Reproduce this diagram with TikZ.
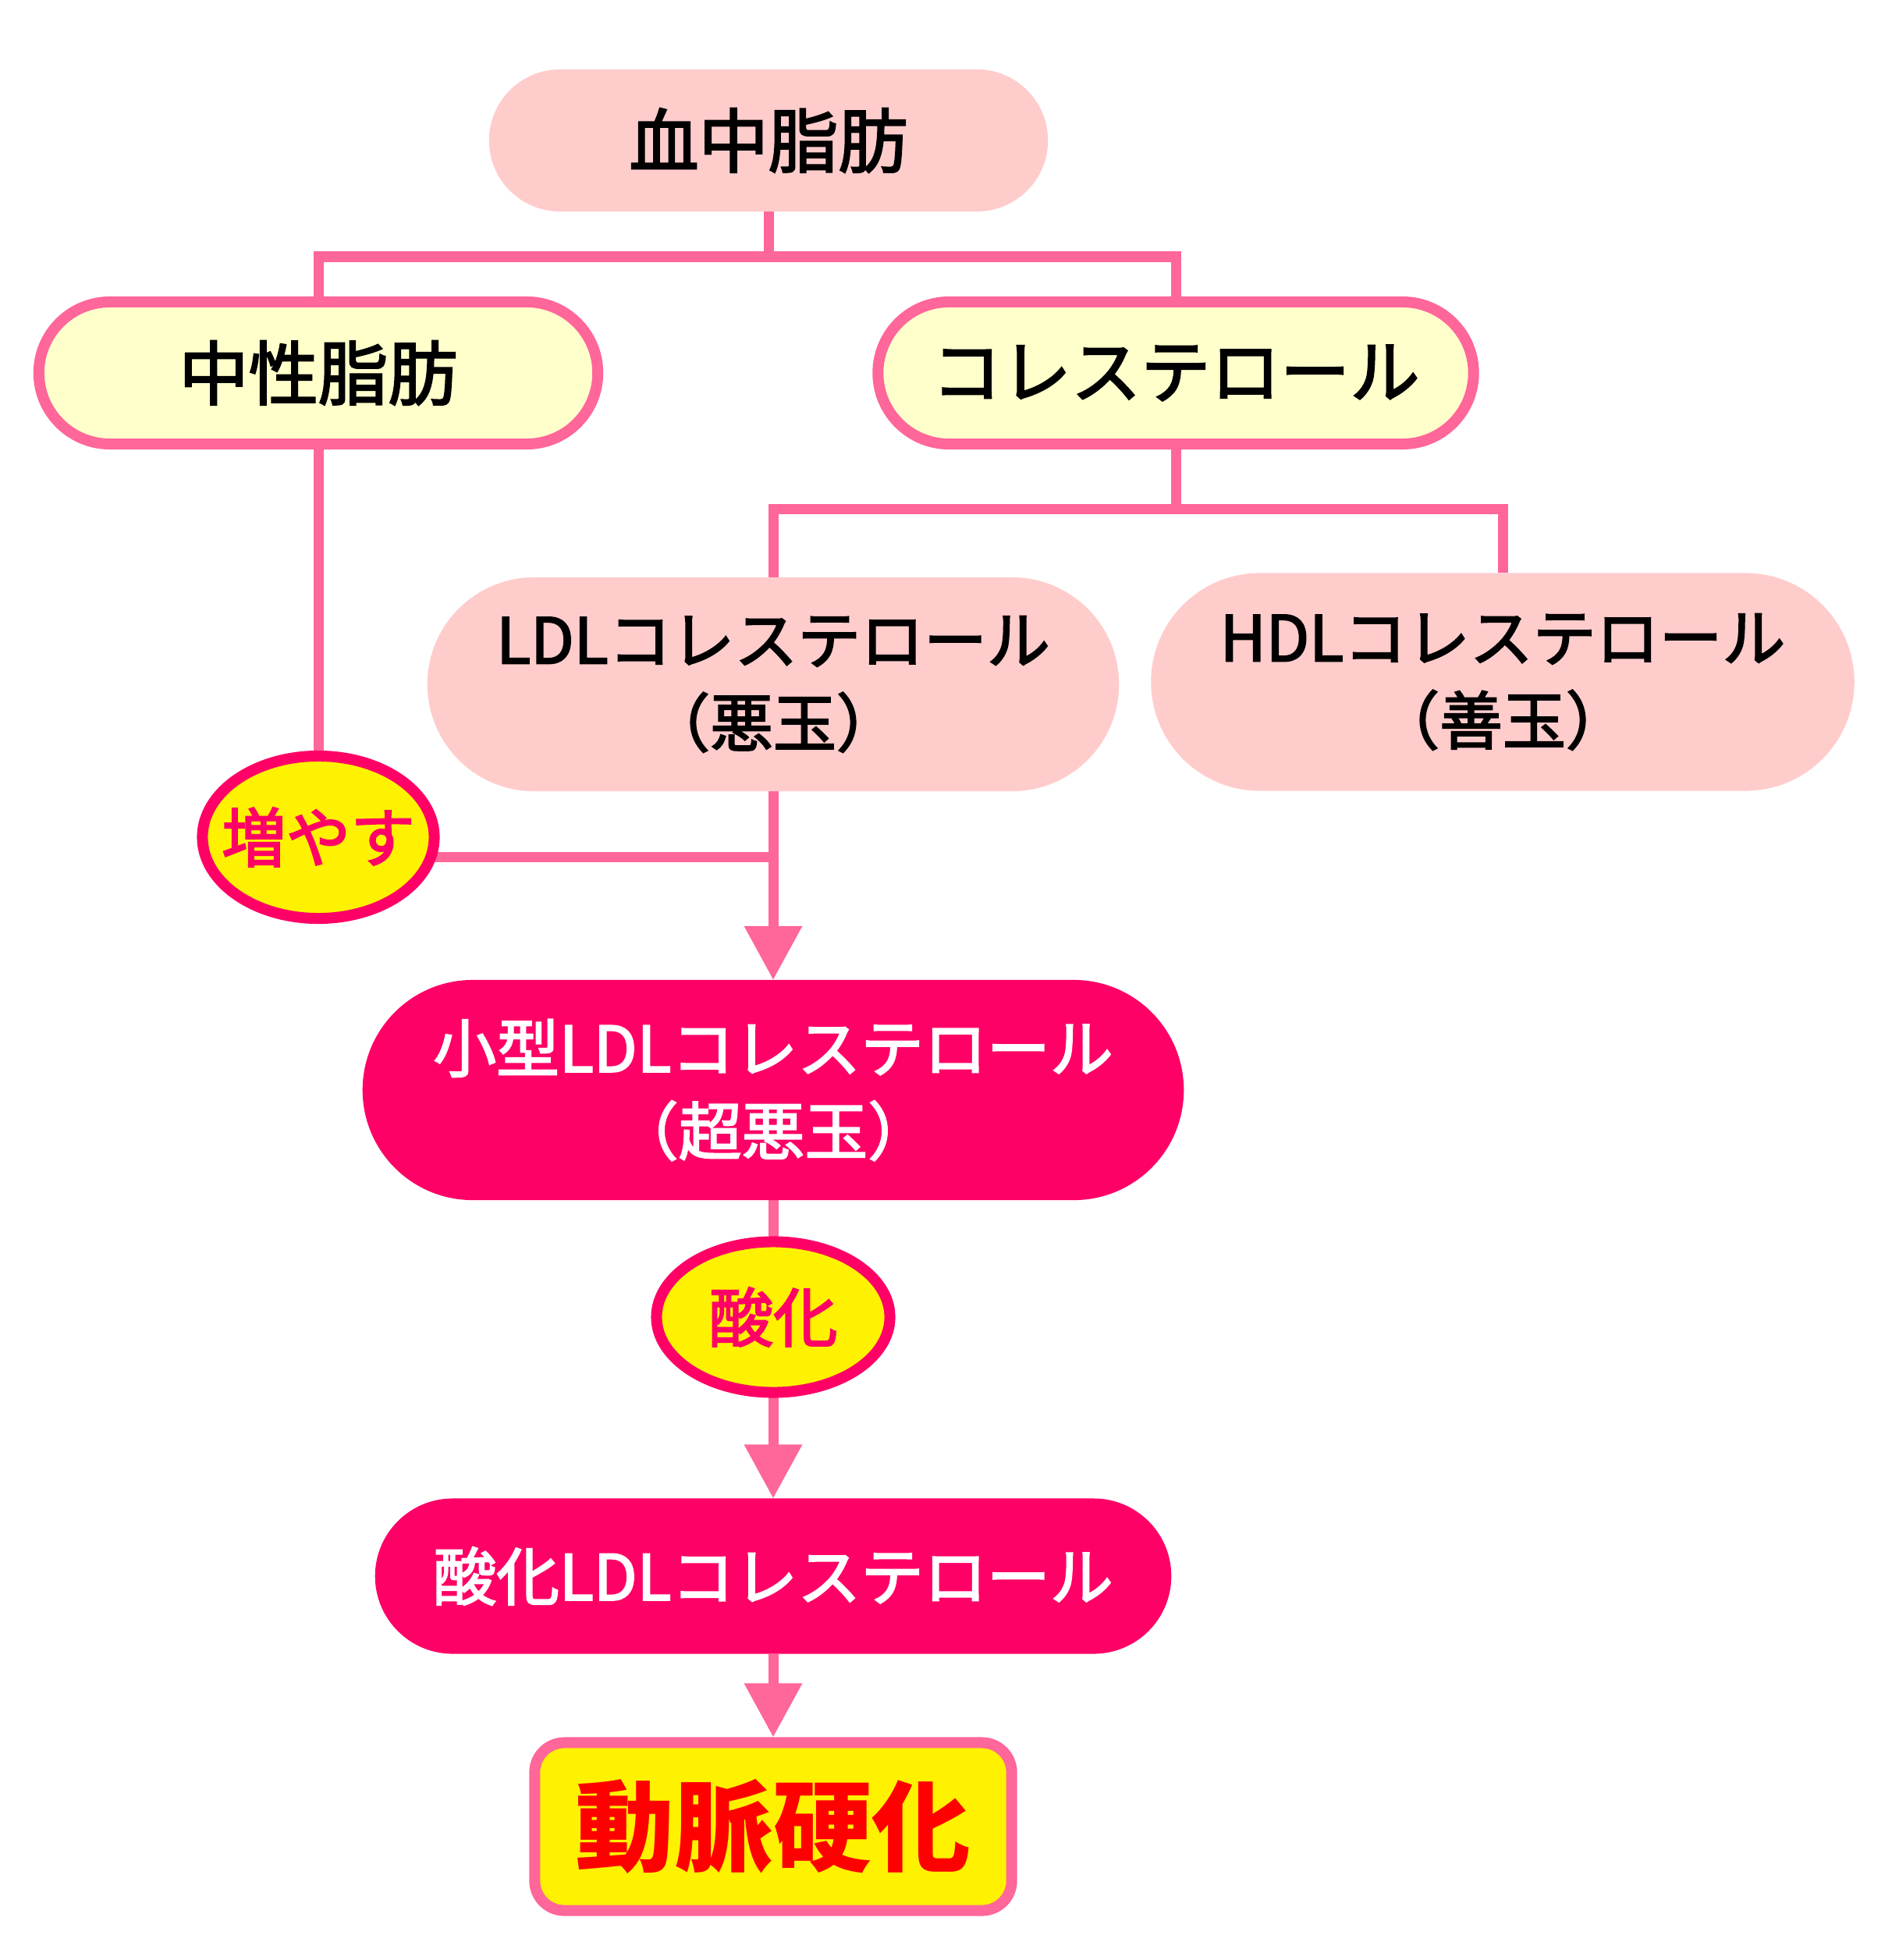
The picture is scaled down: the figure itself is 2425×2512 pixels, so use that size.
\documentclass[tikz,border=0pt]{standalone}
\usepackage{fontspec}
\newfontfamily\jpfont{Noto Sans CJK JP}
\newfontfamily\jpmid{Noto Sans CJK JP}[FakeBold=2.5]
\usetikzlibrary{arrows.meta,backgrounds,shapes.geometric}
\definecolor{linePink}{HTML}{FF6699}
\definecolor{boxPink}{HTML}{FFCCCC}
\definecolor{boxCream}{HTML}{FFFFCC}
\definecolor{deepPink}{HTML}{FF0066}
\begin{document}
\begin{tikzpicture}[x=0.01cm, y=-0.01cm,
        every node/.style={inner sep=0pt, outer sep=0pt, align=center},
        pill/.style={rounded corners=#1, minimum height=2*#1},
        bigText/.style={font=\jpmid\fontsize{25.4}{31}\selectfont},
        midText/.style={font=\jpmid\fontsize{23}{30.2}\selectfont},
        link/.style={draw=linePink, line width=0.13cm},
        arrow/.style={link, -{Triangle[length=0.69cm, width=0.71cm]}},
        tag/.style={ellipse, draw=deepPink, line width=0.14cm, fill=yellow, text=deepPink,
            font=\jpmid\fontsize{23.5}{28}\selectfont}]
    \useasboundingbox (0,0) rectangle (2425,2512);

    % top
    \node[pill=0.91cm, minimum width=7.16cm, fill=boxPink, bigText] (blood) at (985,180) {血中脂肪};
    \node[pill=0.91cm, minimum width=7.16cm, fill=boxCream, draw=linePink, line width=0.14cm, bigText] (neutral) at (408,478) {中性脂肪};
    \node[pill=0.91cm, minimum width=7.63cm, fill=boxCream, draw=linePink, line width=0.14cm, bigText] (chol) at (1507,478) {コレステロール};

    % LDL / HDL
    \node[pill=1.37cm, minimum width=8.86cm, fill=boxPink, midText] (ldl) at (991,877) {LDLコレステロール\\（悪玉）};
    \node[pill=1.395cm, minimum width=9.01cm, fill=boxPink, midText] (hdl) at (1926,874) {HDLコレステロール\\（善玉）};
    \node[tag, minimum width=2.97cm, minimum height=2.08cm] (incr) at (408,1073) {\makebox[0pt]{増やす}};

    % bottom chain
    \node[pill=1.41cm, minimum width=10.52cm, fill=deepPink, text=white, midText] (small) at (991,1397) {小型LDLコレステロール\\（超悪玉）};
    \node[tag, minimum width=2.99cm, minimum height=1.93cm] (oxid) at (991,1688) {\makebox[0pt]{酸化}};
    \node[pill=0.995cm, minimum width=10.2cm, fill=deepPink, text=white, midText] (oxldl) at (991,2020) {酸化LDLコレステロール};
    \node[draw=linePink, line width=0.14cm, fill=yellow, rounded corners=0.38cm, minimum width=6.11cm, minimum height=2.15cm,
        outer sep=0.07cm, text=red, font=\jpfont\bfseries\fontsize{36}{40}\selectfont] (athero) at (991,2341) {動脈硬化};

    \begin{scope}[on background layer]
        \fill[white] (0,0) rectangle (2425,2512);
        \coordinate (fork1) at (985,329);
        \coordinate (fork2) at (1507,652);
        \draw[link] (blood) -- (fork1);
        \draw[link] (neutral) |- (fork1) -| (chol);
        \draw[link] (chol) -- (fork2);
        \draw[link] (ldl) |- (fork2) -| (hdl);
        \draw[link] (neutral) -- (incr);
        \draw[link] (incr.-10) -- (incr.-10 -| ldl.south);
        \draw[arrow] (ldl) -- (small.north);
        \draw[link] (small) -- (oxid);
        \draw[arrow] (oxid) -- (oxldl.north);
        \draw[arrow] (oxldl) -- (athero.north);
    \end{scope}
\end{tikzpicture}
\end{document}
